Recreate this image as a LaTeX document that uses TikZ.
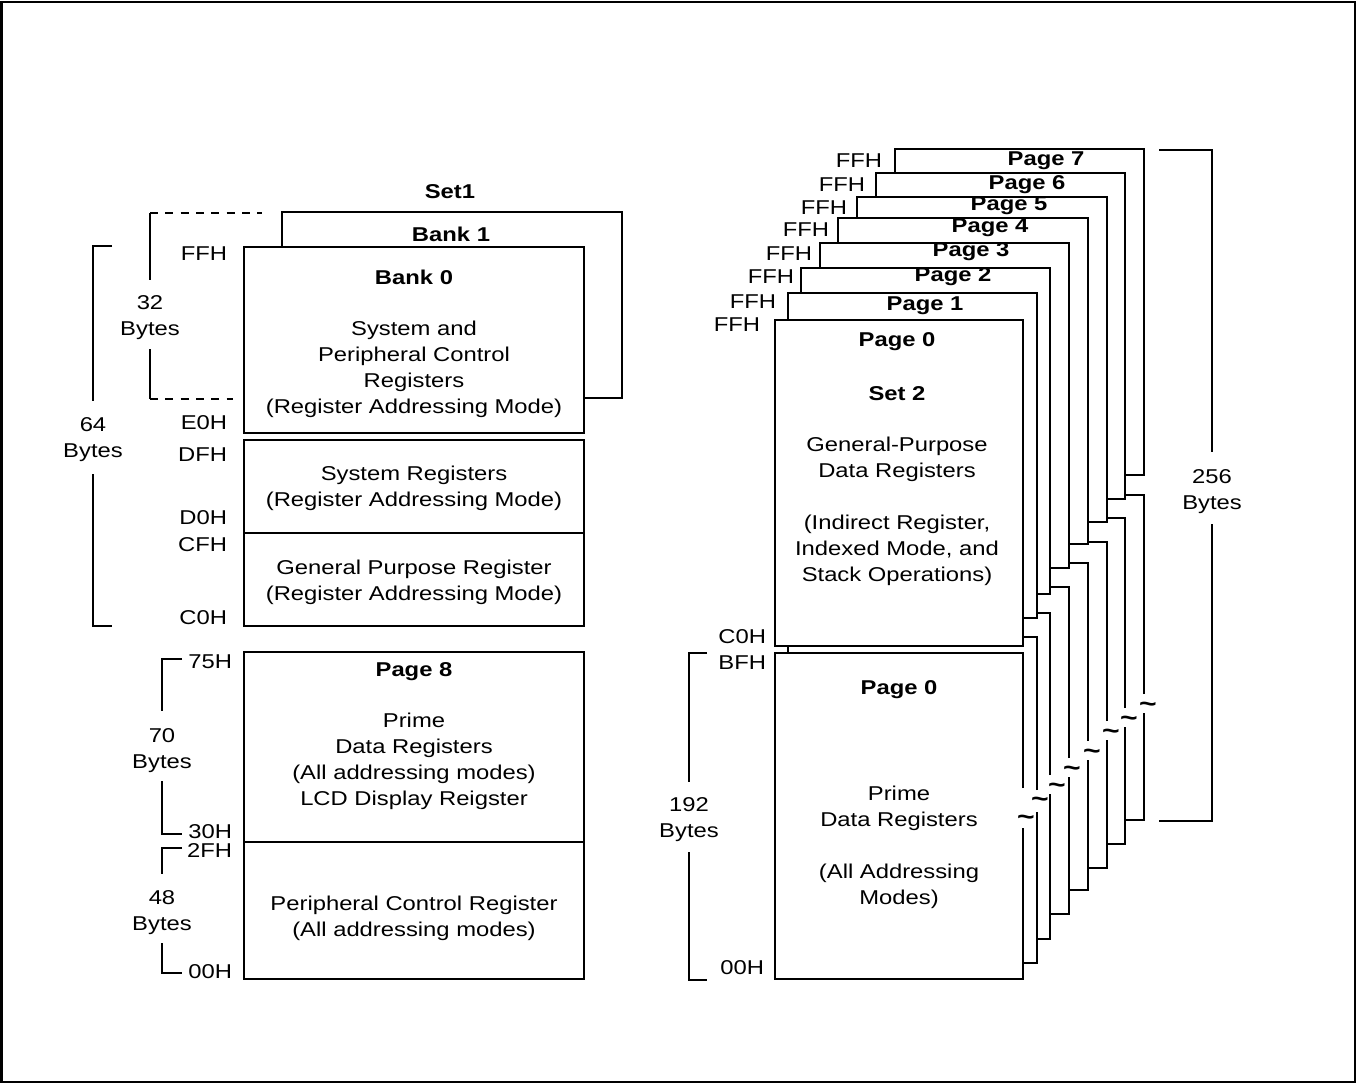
\documentclass[tikz,border=0pt]{standalone}
\usepackage{fontspec}
\setmainfont{Liberation Sans}[FakeStretch=1.19]
\begin{document}
\begin{tikzpicture}[x=0.75pt,y=-0.75pt,line width=1.4pt,
  txt/.style={font=\fontsize{15}{19.5}\selectfont,inner sep=0pt,align=center},
  bold/.style={txt,font=\fontsize{15}{19.5}\selectfont\bfseries},
  addr/.style={txt,anchor=east},
  brkmark/.style={inner sep=0pt,font=\fontsize{19}{20}\selectfont\bfseries},
  dsh/.style={line width=1.4pt,dash pattern=on 6pt off 5.5pt}]
\useasboundingbox (0,0) rectangle (1356,1083);
\draw[line width=1.5pt] (1.5,1.5) rectangle (1354.5,1081.5);

% ---------- Left: Set 1 / Banks ----------
\node[bold] (set1) at (450,192) {Set1};
\fill[white] (282,212) rectangle (622,398);
\draw (282,212) rectangle (622,398);
\node[bold] (bank1) at (451,234) {Bank 1};
\fill[white] (244,247) rectangle (584,433);
\draw (244,247) rectangle (584,433);
\node[bold] (bank0) at (414,277) {Bank 0};
\node[txt] (sysper) at (414,369.5) {System and\\Peripheral Control\\Registers\\(Register Addressing Mode)};

\draw (244,440) rectangle (584,626);
\draw (244,533) -- (584,533);
\node[txt] (sysreg) at (414,488) {System Registers\\(Register Addressing Mode)};
\node[txt] (gpr) at (414,582) {General Purpose Register\\(Register Addressing Mode)};

\node[addr] (aFF) at (228,254) {FFH};
\node[addr] (aE0) at (228,423) {E0H};
\node[addr] (aDF) at (228,455) {DFH};
\node[addr] (aD0) at (228,518) {D0H};
\node[addr] (aCF) at (228,545) {CFH};
\node[addr] (aC0) at (228,618) {C0H};

% 32 bytes bracket
\draw[dsh] (150,213) -- (262,213);
\draw (150,213) -- (150,280);
\node[txt] (b32) at (150,318) {32\\Bytes};
\draw (150,349) -- (150,399);
\draw[dsh] (150,399) -- (233,399);

% 64 bytes bracket
\draw (112,246) -- (93,246) -- (93,401);
\node[txt] (b64) at (93,439.5) {64\\Bytes};
\draw (93,474) -- (93,626) -- (112,626);

% ---------- Left: Page 8 ----------
\draw (244,652) rectangle (584,979);
\draw (244,842) -- (584,842);
\node[bold] (pg8) at (414,672) {Page 8};
\node[txt] (prime8) at (414,761.5) {Prime\\Data Registers\\(All addressing modes)\\LCD Display Reigster};
\node[txt] (pcr) at (414,918) {Peripheral Control Register\\(All addressing modes)};

\node[addr] (a75) at (233,662) {75H};
\node[addr] (a30) at (233,832) {30H};
\node[addr] (a2F) at (233,850) {2FH};
\node[addr] (a00) at (233,972) {00H};

\draw (182,659) -- (162,659) -- (162,711);
\node[txt] (b70) at (162,751) {70\\Bytes};
\draw (162,781) -- (162,834) -- (182,834);

\draw (182,848) -- (162,848) -- (162,874);
\node[txt] (b48) at (162,912.5) {48\\Bytes};
\draw (162,943) -- (162,973) -- (182,973);

% ---------- Right: stacked pages ----------
\foreach \k/\xl/\xr/\T/\U/\L/\B/\tx/\ty/\ga/\gb/\fx/\fy/\px/\py in {
  7/895/1144/149/475/495/820/1148/705/694/713/883/161/1046/161,
  6/876/1125/173/499/518/844/1129/719/708/727/866/185/1027/185,
  5/857/1107/197/522/542/868/1111/732/721/740/848/208/1009/206,
  4/838/1088/218/544/563/890/1092/752/741/760/830/230/990/228,
  3/820/1069/243/568/587/914/1072/769/758/777/813/254/971/252,
  2/801/1050/268/594/613/939/1057/786/775/794/795/277/953/277,
  1/788/1037/293/618/637/963/1040/800/790/812/777/302/925/306,
  0/775/1023/320/646/653/979/1026/818/788/828/761/325/897/342}{
  \fill[white] (\xl,\T) rectangle (\xr,\U);
  \draw (\xl,\T) rectangle (\xr,\U);
  \fill[white] (\xl,\L) rectangle (\xr,\B);
  \draw (\xr,\ga) -- (\xr,\L) -- (\xl,\L) -- (\xl,\B) -- (\xr,\B) -- (\xr,\gb);
  \node[brkmark] (tl\k) at (\tx,\ty+2) {\textasciitilde};
  \node[addr] (ffh\k) at (\fx,\fy) {FFH};
  \node[bold] (pt\k) at (\px,\py) {Page \k};
}

\node[bold] (set2) at (897,394) {Set 2};
\node[txt] (gpd) at (897,511.5) {General-Purpose\\Data Registers\\[19.5pt](Indirect Register,\\Indexed Mode, and\\Stack Operations)};
\node[bold] (p0low) at (899,690) {Page 0};
\node[txt] (prime0) at (899,847) {Prime\\Data Registers\\[19.5pt](All Addressing\\Modes)};

\node[addr] (rC0) at (767,637) {C0H};
\node[addr] (rBF) at (767,663) {BFH};
\node[addr] (r00) at (765,968) {00H};

% 192 bytes bracket
\draw (707,653) -- (689,653) -- (689,782);
\node[txt] (b192) at (689,820) {192\\Bytes};
\draw (689,852) -- (689,980) -- (707,980);

% 256 bytes bracket
\draw (1159,150) -- (1212,150) -- (1212,452);
\node[txt] (b256) at (1212,492) {256\\Bytes};
\draw (1212,524) -- (1212,821) -- (1159,821);
\end{tikzpicture}
\end{document}
